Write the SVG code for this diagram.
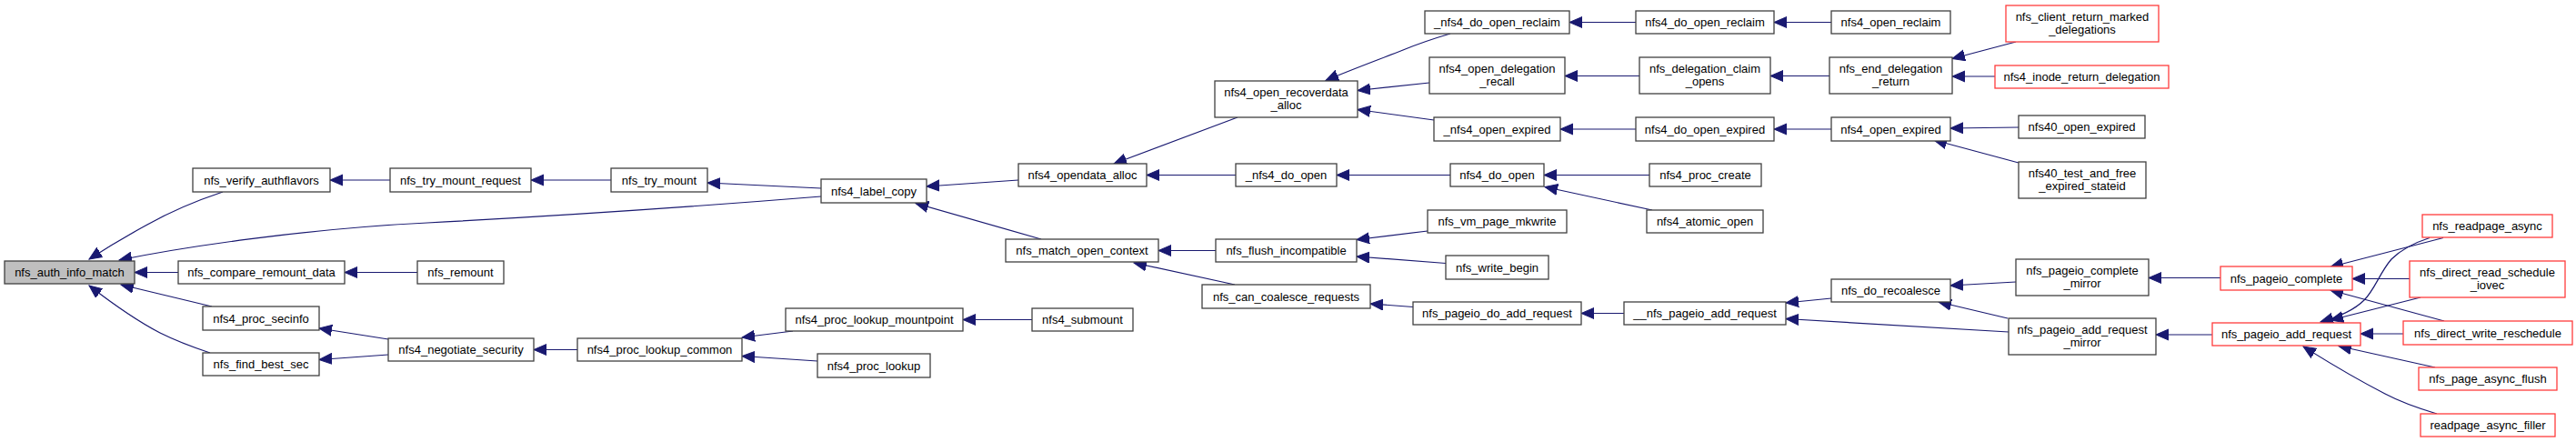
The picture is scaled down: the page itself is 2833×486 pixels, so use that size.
<svg xmlns="http://www.w3.org/2000/svg" width="2833" height="486" viewBox="0 0 2833 486">
<style>
.n rect{fill:#fff;stroke:#404040;stroke-width:1.3}
.r rect{fill:#fff;stroke:#ff3c3c;stroke-width:1.3}
.g rect{fill:#bfbfbf;stroke:#404040;stroke-width:1.3}
text{font-family:"Liberation Sans",Arial,sans-serif;font-size:13px;text-anchor:middle;fill:#000}
#edges path{fill:none;stroke:#191970;stroke-width:1.2;marker-end:url(#a)}
</style>
<defs>
<marker id="a" markerUnits="userSpaceOnUse" markerWidth="16" markerHeight="14" refX="14" refY="6.5" orient="auto"><path d="M14,6.5 L0,0.5 L0,12.5 z" fill="#191970" stroke="#191970" stroke-width="1"/></marker>
</defs>
<rect width="2833" height="486" fill="#fff"/>
<g id="edges">
<path d="M245,211 C215,221 187,233 162,247 C140,259 118,272 98,285"/>
<path d="M903,216 C780,226 600,238 470,245 C330,252 200,272 131,286"/>
<path d="M196,299.5 L148,299.5"/>
<path d="M233,337 L133,313"/>
<path d="M231,388 C210,381 192,374 176,366 C147,351 120,331 98,314"/>
<path d="M429,198 L363,198"/>
<path d="M672,198 L584,198"/>
<path d="M903,207 L778,201"/>
<path d="M459,299.5 L379,299.5"/>
<path d="M427,373 L351,361"/>
<path d="M427,390 L351,395.5"/>
<path d="M635,384.5 L587,384.5"/>
<path d="M872,364 L816,371"/>
<path d="M899,397 L816,391.5"/>
<path d="M1135,351.5 L1059,351.5"/>
<path d="M1120,198 L1019,205"/>
<path d="M1145,263 L1007,223.5"/>
<path d="M1361,129 L1225,180"/>
<path d="M1359,192.5 L1261,192.5"/>
<path d="M1337,275.5 L1274,275.5"/>
<path d="M1358,313 L1247,289"/>
<path d="M1595,37 C1578,42 1560,48 1543,55 C1515,66 1485,77 1458,88.5"/>
<path d="M1572,91 L1493,99.5"/>
<path d="M1577,132 L1493,120.5"/>
<path d="M1595,192.5 L1470,192.5"/>
<path d="M1570,254 L1492,263.5"/>
<path d="M1590,289.5 L1492,282"/>
<path d="M1554,337.5 L1507,334"/>
<path d="M1799,24.5 L1726,24.5"/>
<path d="M1803,83.5 L1721,83.5"/>
<path d="M1799,142 L1716,142"/>
<path d="M1814,192.5 L1698,192.5"/>
<path d="M1817,231 L1699,205.5"/>
<path d="M1786,344.5 L1739,344.5"/>
<path d="M2014,24.5 L1951,24.5"/>
<path d="M2012,83.5 L1947,83.5"/>
<path d="M2014,142 L1951,142"/>
<path d="M2014,328 L1964,333"/>
<path d="M2209,365 L1964,350.5"/>
<path d="M2217,46 L2147,64.5"/>
<path d="M2194,84 L2147,84"/>
<path d="M2220,140 L2145,141"/>
<path d="M2220,179 L2127,154"/>
<path d="M2217,310 L2145,314"/>
<path d="M2208,350 L2132,332"/>
<path d="M2442,305.5 L2363,305.5"/>
<path d="M2433,368 L2371,368"/>
<path d="M2687,261.5 L2563,293.5"/>
<path d="M2672,261.5 C2655,267 2640,275 2630,285 C2617,300 2612,318 2600,330 C2588,342 2570,349 2552,354"/>
<path d="M2650,306.5 L2587,306.5"/>
<path d="M2662,327 L2563,352"/>
<path d="M2688,353 L2563,319"/>
<path d="M2643,367 L2596,367"/>
<path d="M2678,404 L2572,380.5"/>
<path d="M2680,455 C2660,449 2640,442 2623,433 C2590,416 2560,398 2533,381"/>
</g>
<g id="nfs_auth_info_match" class="g"><rect x="5" y="287" width="143" height="25"/><text x="76.5" y="304">nfs_auth_info_match</text></g>
<g id="nfs_verify_authflavors" class="n"><rect x="212" y="185" width="151" height="26"/><text x="287.5" y="202.5">nfs_verify_authflavors</text></g>
<g id="nfs_compare_remount_data" class="n"><rect x="196" y="287" width="183" height="25"/><text x="287.5" y="304">nfs_compare_remount_data</text></g>
<g id="nfs4_proc_secinfo" class="n"><rect x="223" y="337" width="128" height="26"/><text x="287" y="354.5">nfs4_proc_secinfo</text></g>
<g id="nfs_find_best_sec" class="n"><rect x="223" y="388" width="128" height="25"/><text x="287" y="405">nfs_find_best_sec</text></g>
<g id="nfs_try_mount_request" class="n"><rect x="429" y="185" width="155" height="26"/><text x="506.5" y="202.5">nfs_try_mount_request</text></g>
<g id="nfs_remount" class="n"><rect x="459" y="287" width="95" height="25"/><text x="506.5" y="304">nfs_remount</text></g>
<g id="nfs4_negotiate_security" class="n"><rect x="427" y="372" width="160" height="25"/><text x="507" y="389">nfs4_negotiate_security</text></g>
<g id="nfs_try_mount" class="n"><rect x="672" y="185" width="106" height="26"/><text x="725" y="202.5">nfs_try_mount</text></g>
<g id="nfs4_label_copy" class="n"><rect x="903" y="197" width="116" height="26"/><text x="961" y="214.5">nfs4_label_copy</text></g>
<g id="nfs4_proc_lookup_common" class="n"><rect x="635" y="372" width="181" height="25"/><text x="725.5" y="389">nfs4_proc_lookup_common</text></g>
<g id="nfs4_proc_lookup_mountpoint" class="n"><rect x="864" y="339" width="195" height="25"/><text x="961.5" y="356">nfs4_proc_lookup_mountpoint</text></g>
<g id="nfs4_proc_lookup" class="n"><rect x="899" y="389" width="124" height="26"/><text x="961" y="406.5">nfs4_proc_lookup</text></g>
<g id="nfs4_open_recoverdata_alloc" class="n"><rect x="1336" y="89" width="157" height="40"/><text x="1414.5" y="105.5">nfs4_open_recoverdata</text><text x="1414.5" y="119.5">_alloc</text></g>
<g id="nfs4_opendata_alloc" class="n"><rect x="1120" y="180" width="141" height="25"/><text x="1190.5" y="197">nfs4_opendata_alloc</text></g>
<g id="nfs_match_open_context" class="n"><rect x="1106" y="263" width="168" height="25"/><text x="1190" y="280">nfs_match_open_context</text></g>
<g id="nfs4_submount" class="n"><rect x="1135" y="339" width="111" height="25"/><text x="1190.5" y="356">nfs4_submount</text></g>
<g id="_nfs4_do_open" class="n"><rect x="1359" y="180" width="111" height="25"/><text x="1414.5" y="197">_nfs4_do_open</text></g>
<g id="nfs_flush_incompatible" class="n"><rect x="1337" y="263" width="155" height="25"/><text x="1414.5" y="280">nfs_flush_incompatible</text></g>
<g id="nfs_can_coalesce_requests" class="n"><rect x="1322" y="313" width="185" height="26"/><text x="1414.5" y="330.5">nfs_can_coalesce_requests</text></g>
<g id="_nfs4_do_open_reclaim" class="n"><rect x="1567" y="12" width="159" height="25"/><text x="1646.5" y="29">_nfs4_do_open_reclaim</text></g>
<g id="nfs4_open_delegation_recall" class="n"><rect x="1572" y="63" width="149" height="40"/><text x="1646.5" y="79.5">nfs4_open_delegation</text><text x="1646.5" y="93.5">_recall</text></g>
<g id="_nfs4_open_expired" class="n"><rect x="1577" y="129" width="139" height="26"/><text x="1646.5" y="146.5">_nfs4_open_expired</text></g>
<g id="nfs4_do_open" class="n"><rect x="1595" y="180" width="103" height="25"/><text x="1646.5" y="197">nfs4_do_open</text></g>
<g id="nfs_vm_page_mkwrite" class="n"><rect x="1570" y="231" width="153" height="25"/><text x="1646.5" y="248">nfs_vm_page_mkwrite</text></g>
<g id="nfs_write_begin" class="n"><rect x="1590" y="281" width="113" height="26"/><text x="1646.5" y="298.5">nfs_write_begin</text></g>
<g id="nfs_pageio_do_add_request" class="n"><rect x="1554" y="332" width="185" height="25"/><text x="1646.5" y="349">nfs_pageio_do_add_request</text></g>
<g id="nfs4_do_open_reclaim" class="n"><rect x="1799" y="12" width="152" height="25"/><text x="1875" y="29">nfs4_do_open_reclaim</text></g>
<g id="nfs_delegation_claim_opens" class="n"><rect x="1803" y="63" width="144" height="40"/><text x="1875" y="79.5">nfs_delegation_claim</text><text x="1875" y="93.5">_opens</text></g>
<g id="nfs4_do_open_expired" class="n"><rect x="1799" y="129" width="152" height="26"/><text x="1875" y="146.5">nfs4_do_open_expired</text></g>
<g id="nfs4_proc_create" class="n"><rect x="1814" y="180" width="123" height="25"/><text x="1875.5" y="197">nfs4_proc_create</text></g>
<g id="nfs4_atomic_open" class="n"><rect x="1811" y="231" width="128" height="25"/><text x="1875" y="248">nfs4_atomic_open</text></g>
<g id="__nfs_pageio_add_request" class="n"><rect x="1786" y="332" width="178" height="25"/><text x="1875" y="349">__nfs_pageio_add_request</text></g>
<g id="nfs4_open_reclaim" class="n"><rect x="2014" y="12" width="131" height="25"/><text x="2079.5" y="29">nfs4_open_reclaim</text></g>
<g id="nfs_end_delegation_return" class="n"><rect x="2012" y="63" width="135" height="40"/><text x="2079.5" y="79.5">nfs_end_delegation</text><text x="2079.5" y="93.5">_return</text></g>
<g id="nfs4_open_expired" class="n"><rect x="2014" y="129" width="131" height="26"/><text x="2079.5" y="146.5">nfs4_open_expired</text></g>
<g id="nfs_do_recoalesce" class="n"><rect x="2014" y="307" width="131" height="25"/><text x="2079.5" y="324">nfs_do_recoalesce</text></g>
<g id="nfs_client_return_marked_delegations" class="r"><rect x="2206" y="6" width="168" height="40"/><text x="2290" y="22.5">nfs_client_return_marked</text><text x="2290" y="36.5">_delegations</text></g>
<g id="nfs4_inode_return_delegation" class="r"><rect x="2194" y="72" width="191" height="25"/><text x="2289.5" y="89">nfs4_inode_return_delegation</text></g>
<g id="nfs40_open_expired" class="n"><rect x="2220" y="127" width="139" height="25"/><text x="2289.5" y="144">nfs40_open_expired</text></g>
<g id="nfs40_test_and_free_expired_stateid" class="n"><rect x="2220" y="178" width="140" height="40"/><text x="2290" y="194.5">nfs40_test_and_free</text><text x="2290" y="208.5">_expired_stateid</text></g>
<g id="nfs_pageio_complete_mirror" class="n"><rect x="2217" y="285" width="146" height="40"/><text x="2290" y="301.5">nfs_pageio_complete</text><text x="2290" y="315.5">_mirror</text></g>
<g id="nfs_pageio_add_request_mirror" class="n"><rect x="2209" y="350" width="162" height="40"/><text x="2290" y="366.5">nfs_pageio_add_request</text><text x="2290" y="380.5">_mirror</text></g>
<g id="nfs_pageio_complete" class="r"><rect x="2442" y="293" width="145" height="26"/><text x="2514.5" y="310.5">nfs_pageio_complete</text></g>
<g id="nfs_pageio_add_request" class="r"><rect x="2433" y="355" width="163" height="25"/><text x="2514.5" y="372">nfs_pageio_add_request</text></g>
<g id="nfs_readpage_async" class="r"><rect x="2664" y="236" width="143" height="25"/><text x="2735.5" y="253">nfs_readpage_async</text></g>
<g id="nfs_direct_read_schedule_iovec" class="r"><rect x="2650" y="287" width="171" height="40"/><text x="2735.5" y="303.5">nfs_direct_read_schedule</text><text x="2735.5" y="317.5">_iovec</text></g>
<g id="nfs_direct_write_reschedule" class="r"><rect x="2643" y="353" width="186" height="26"/><text x="2736" y="370.5">nfs_direct_write_reschedule</text></g>
<g id="nfs_page_async_flush" class="r"><rect x="2660" y="404" width="152" height="25"/><text x="2736" y="421">nfs_page_async_flush</text></g>
<g id="readpage_async_filler" class="r"><rect x="2662" y="455" width="148" height="25"/><text x="2736" y="472">readpage_async_filler</text></g>
</svg>
